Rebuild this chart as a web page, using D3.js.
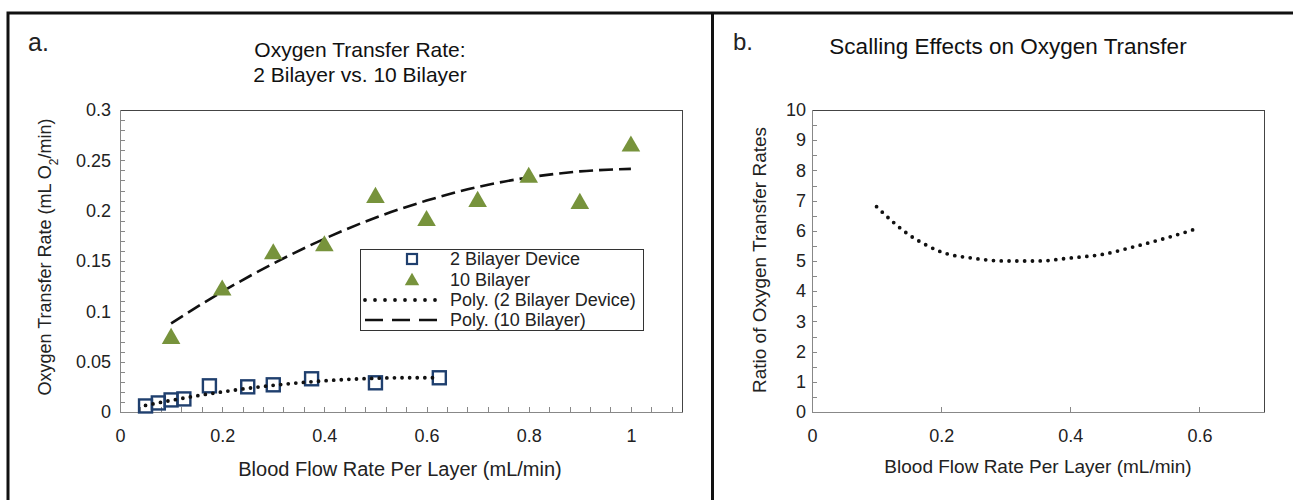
<!DOCTYPE html>
<meta charset="utf-8">
<style>
body { margin: 0; background: #fff; }
svg { display: block; font-family: Arial, "Liberation Sans", sans-serif; }
.axis path { stroke: #888; }
.axis line { stroke: #888; }
</style>
<body>
<script src="https://cdn.jsdelivr.net/npm/d3@7"></script>
<script>

// --- data ---
// panel a: 2 bilayer device (squares)
var flow2 = [0.05, 0.075, 0.1, 0.125, 0.175, 0.25, 0.3, 0.375, 0.5, 0.625],
    rate2 = [0.006, 0.009, 0.012, 0.013, 0.026, 0.025, 0.027, 0.033, 0.029, 0.034];
// panel a: 10 bilayer (triangles)
var flow10 = [0.1, 0.2, 0.3, 0.4, 0.5, 0.6, 0.7, 0.8, 0.9, 1.0],
    rate10 = [0.074, 0.122, 0.158, 0.166, 0.214, 0.191, 0.21, 0.234, 0.208, 0.265];
// trendlines (poly) as drawn
var trend2X = [0.05, 0.1, 0.15, 0.2, 0.25, 0.3, 0.35, 0.4, 0.45, 0.5, 0.55, 0.6, 0.625],
    trend2Y = [0.0065, 0.0115, 0.016, 0.020, 0.0235, 0.0265, 0.029, 0.031, 0.0325, 0.0335, 0.034, 0.034, 0.034];
var trend10X = [0.1, 0.2, 0.3, 0.4, 0.5, 0.6, 0.7, 0.8, 0.9, 1.0],
    trend10Y = [0.088, 0.1195, 0.1475, 0.172, 0.193, 0.21, 0.2235, 0.233, 0.239, 0.2415];
// panel b: ratio curve
var ratioX = [0.1, 0.125, 0.15, 0.175, 0.2, 0.25, 0.3, 0.35, 0.4, 0.45, 0.5, 0.55, 0.6],
    ratioY = [6.8, 6.3, 5.87, 5.55, 5.3, 5.09, 5.0, 5.0, 5.1, 5.22, 5.48, 5.77, 6.1];

var ticksA_x = [0, 0.2, 0.4, 0.6, 0.8, 1],
    ticksA_y = [0, 0.05, 0.1, 0.15, 0.2, 0.25, 0.3],
    ticksB_x = [0, 0.2, 0.4, 0.6],
    ticksB_y = [0, 1, 2, 3, 4, 5, 6, 7, 8, 9, 10];

var legendLabels = ["2 Bilayer Device", "10 Bilayer", "Poly. (2 Bilayer Device)", "Poly. (10 Bilayer)"];

var navy = "#1f3f6e", green = "#77933c", ink = "#222";

var svg = d3.select("body").append("svg")
    .attr("width", 1293)
    .attr("height", 500);

// panel frames
svg.append("path")
    .attr("d", "M8,500 V13 H1293 M712.5,13 V500")
    .attr("fill", "none")
    .attr("stroke", "#111")
    .attr("stroke-width", 3);

function minor(lo, hi, step) {
  var out = [];
  for (var v = lo; v <= hi + 1e-9; v += step) out.push(+v.toFixed(4));
  return out;
}

function frame(g, x, y, xMinor, yMinor, xTicks, yTicks, xPad, yPad) {
  var x0 = x.range()[0], x1 = x.range()[1], y0 = y.range()[0], y1 = y.range()[1];
  // minor ticks, inside
  g.append("g").selectAll("line").data(yMinor).enter().append("line")
      .attr("x1", x0).attr("x2", x0 + 5)
      .attr("y1", function(d) { return Math.round(y(d)) + 0.5; })
      .attr("y2", function(d) { return Math.round(y(d)) + 0.5; })
      .attr("stroke", "#888");
  g.append("g").selectAll("line").data(xMinor).enter().append("line")
      .attr("y1", y0).attr("y2", y0 - 5)
      .attr("x1", function(d) { return Math.round(x(d)) + 0.5; })
      .attr("x2", function(d) { return Math.round(x(d)) + 0.5; })
      .attr("stroke", "#888");

  var xa = g.append("g").attr("class", "axis")
      .attr("transform", "translate(0," + y0 + ")")
      .call(d3.axisBottom(x).tickValues(xTicks).tickFormat(function(d) { return d; }).tickSize(0).tickPadding(xPad));
  xa.select(".domain").remove();
  var ya = g.append("g").attr("class", "axis")
      .attr("transform", "translate(" + x0 + ",0)")
      .call(d3.axisLeft(y).tickValues(yTicks).tickFormat(function(d) { return d; }).tickSize(0).tickPadding(yPad));
  ya.select(".domain").remove();
  g.selectAll(".axis text").style("font-size", "18px").style("fill", ink)
      .style("font-family", "Arial, 'Liberation Sans', sans-serif");

  g.append("rect")
      .attr("x", x0 + 0.5).attr("y", y1 + 0.5)
      .attr("width", x1 - x0).attr("height", y0 - y1)
      .attr("fill", "none").attr("stroke", "#444");
  g.append("line").attr("x1", x0 + 0.5).attr("x2", x0 + 0.5).attr("y1", y1).attr("y2", y0 + 1).attr("stroke", "#888");
  g.append("line").attr("x1", x0).attr("x2", x1 + 1).attr("y1", y0 + 0.5).attr("y2", y0 + 0.5).attr("stroke", "#888");
}

// ---------- panel a ----------
var xA = d3.scaleLinear().domain([0, 1.1]).range([120, 682]),
    yA = d3.scaleLinear().domain([0, 0.3]).range([412, 110]);
var gA = svg.append("g");

frame(gA, xA, yA, minor(0, 1.1, 0.04), minor(0, 0.3, 0.01), ticksA_x, ticksA_y, 17, 9);

var dotted = function(sel) {
  return sel.attr("fill", "none").attr("stroke", "#111").attr("stroke-width", 3.8)
    .attr("stroke-linecap", "round").attr("stroke-dasharray", "0 7.6");
};
var dashed = function(sel) {
  return sel.attr("fill", "none").attr("stroke", "#111").attr("stroke-width", 2.6)
    .attr("stroke-dasharray", "14 6");
};

var lineA = d3.line()
    .x(function(d) { return xA(d[0]); })
    .y(function(d) { return yA(d[1]); })
    .curve(d3.curveMonotoneX);

gA.append("path").datum(d3.zip(trend10X, trend10Y)).attr("d", lineA).call(dashed);

var tri = d3.symbol().type(d3.symbolTriangle).size(150);
gA.append("g").selectAll("path").data(d3.zip(flow10, rate10)).enter().append("path")
    .attr("d", tri)
    .attr("transform", function(d) { return "translate(" + xA(d[0]) + "," + (yA(d[1]) + 1) + ")"; })
    .attr("fill", green);

gA.append("g").selectAll("rect").data(d3.zip(flow2, rate2)).enter().append("rect")
    .attr("x", function(d) { return xA(d[0]) - 6.5; })
    .attr("y", function(d) { return yA(d[1]) - 6.5; })
    .attr("width", 13).attr("height", 13)
    .attr("fill", "none").attr("stroke", navy).attr("stroke-width", 2.4);

gA.append("path").datum(d3.zip(trend2X, trend2Y)).attr("d", lineA).call(dotted);

// legend
var lg = gA.append("g").attr("transform", "translate(360,249)");
lg.append("rect").attr("x", 0.5).attr("y", 0.5).attr("width", 283).attr("height", 81)
    .attr("fill", "#fff").attr("stroke", "#333");
var rowY = [10, 31, 51, 71];
lg.append("rect").attr("x", 47).attr("y", rowY[0] - 5).attr("width", 10).attr("height", 10)
    .attr("fill", "none").attr("stroke", navy).attr("stroke-width", 2.2);
lg.append("path").attr("d", d3.symbol().type(d3.symbolTriangle).size(90))
    .attr("transform", "translate(52," + (rowY[1] + 1) + ")").attr("fill", green);
lg.append("path").attr("d", "M5," + rowY[2] + "H78").call(dotted).attr("stroke-dasharray", "0 10");
lg.append("path").attr("d", "M5," + rowY[3] + "H78").call(dashed).attr("stroke-dasharray", "18 9");
lg.selectAll("text.lab").data(legendLabels).enter().append("text")
    .attr("class", "lab")
    .attr("x", 90)
    .attr("y", function(d, i) { return rowY[i] + 6; })
    .style("font-size", "18px").style("fill", ink)
    .text(function(d) { return d; });

// titles and labels
svg.append("text").attr("x", 28).attr("y", 51).style("font-size", "25px").style("fill", ink).text("a.");
svg.append("text").attr("x", 360).attr("y", 57).attr("text-anchor", "middle")
    .style("font-size", "21px").style("fill", "#111").text("Oxygen Transfer Rate:");
svg.append("text").attr("x", 360).attr("y", 82).attr("text-anchor", "middle")
    .style("font-size", "21px").style("fill", "#111").text("2 Bilayer vs. 10 Bilayer");
svg.append("text").attr("x", 400).attr("y", 476).attr("text-anchor", "middle")
    .style("font-size", "20px").style("fill", ink).text("Blood Flow Rate Per Layer (mL/min)");
var yl = svg.append("text").attr("transform", "translate(51,257) rotate(-90)")
    .attr("text-anchor", "middle").style("font-size", "18px").style("fill", ink);
yl.append("tspan").text("Oxygen Transfer Rate (mL O");
yl.append("tspan").attr("baseline-shift", "sub").style("font-size", "12px").text("2");
yl.append("tspan").text("/min)");

// ---------- panel b ----------
var xB = d3.scaleLinear().domain([0, 0.7]).range([812, 1264]),
    yB = d3.scaleLinear().domain([0, 10]).range([412, 110]);
var gB = svg.append("g");

frame(gB, xB, yB, [0.2, 0.4, 0.6], minor(0, 10, 0.5), ticksB_x, ticksB_y, 17, 6);

var lineB = d3.line()
    .x(function(d) { return xB(d[0]); })
    .y(function(d) { return yB(d[1]); })
    .curve(d3.curveMonotoneX);
gB.append("path").datum(d3.zip(ratioX, ratioY)).attr("d", lineB).call(dotted)
    .attr("stroke-dasharray", "0 7.8");

svg.append("text").attr("x", 733).attr("y", 50).style("font-size", "24px").style("fill", ink).text("b.");
svg.append("text").attr("x", 1008).attr("y", 54).attr("text-anchor", "middle")
    .style("font-size", "22.5px").style("fill", "#111").text("Scalling Effects on Oxygen Transfer");
svg.append("text").attr("x", 1038).attr("y", 473).attr("text-anchor", "middle")
    .style("font-size", "19px").style("fill", ink).text("Blood Flow Rate Per Layer (mL/min)");
svg.append("text").attr("transform", "translate(766,260) rotate(-90)")
    .attr("text-anchor", "middle").style("font-size", "19px").style("fill", ink)
    .text("Ratio of Oxygen Transfer Rates");

</script>
